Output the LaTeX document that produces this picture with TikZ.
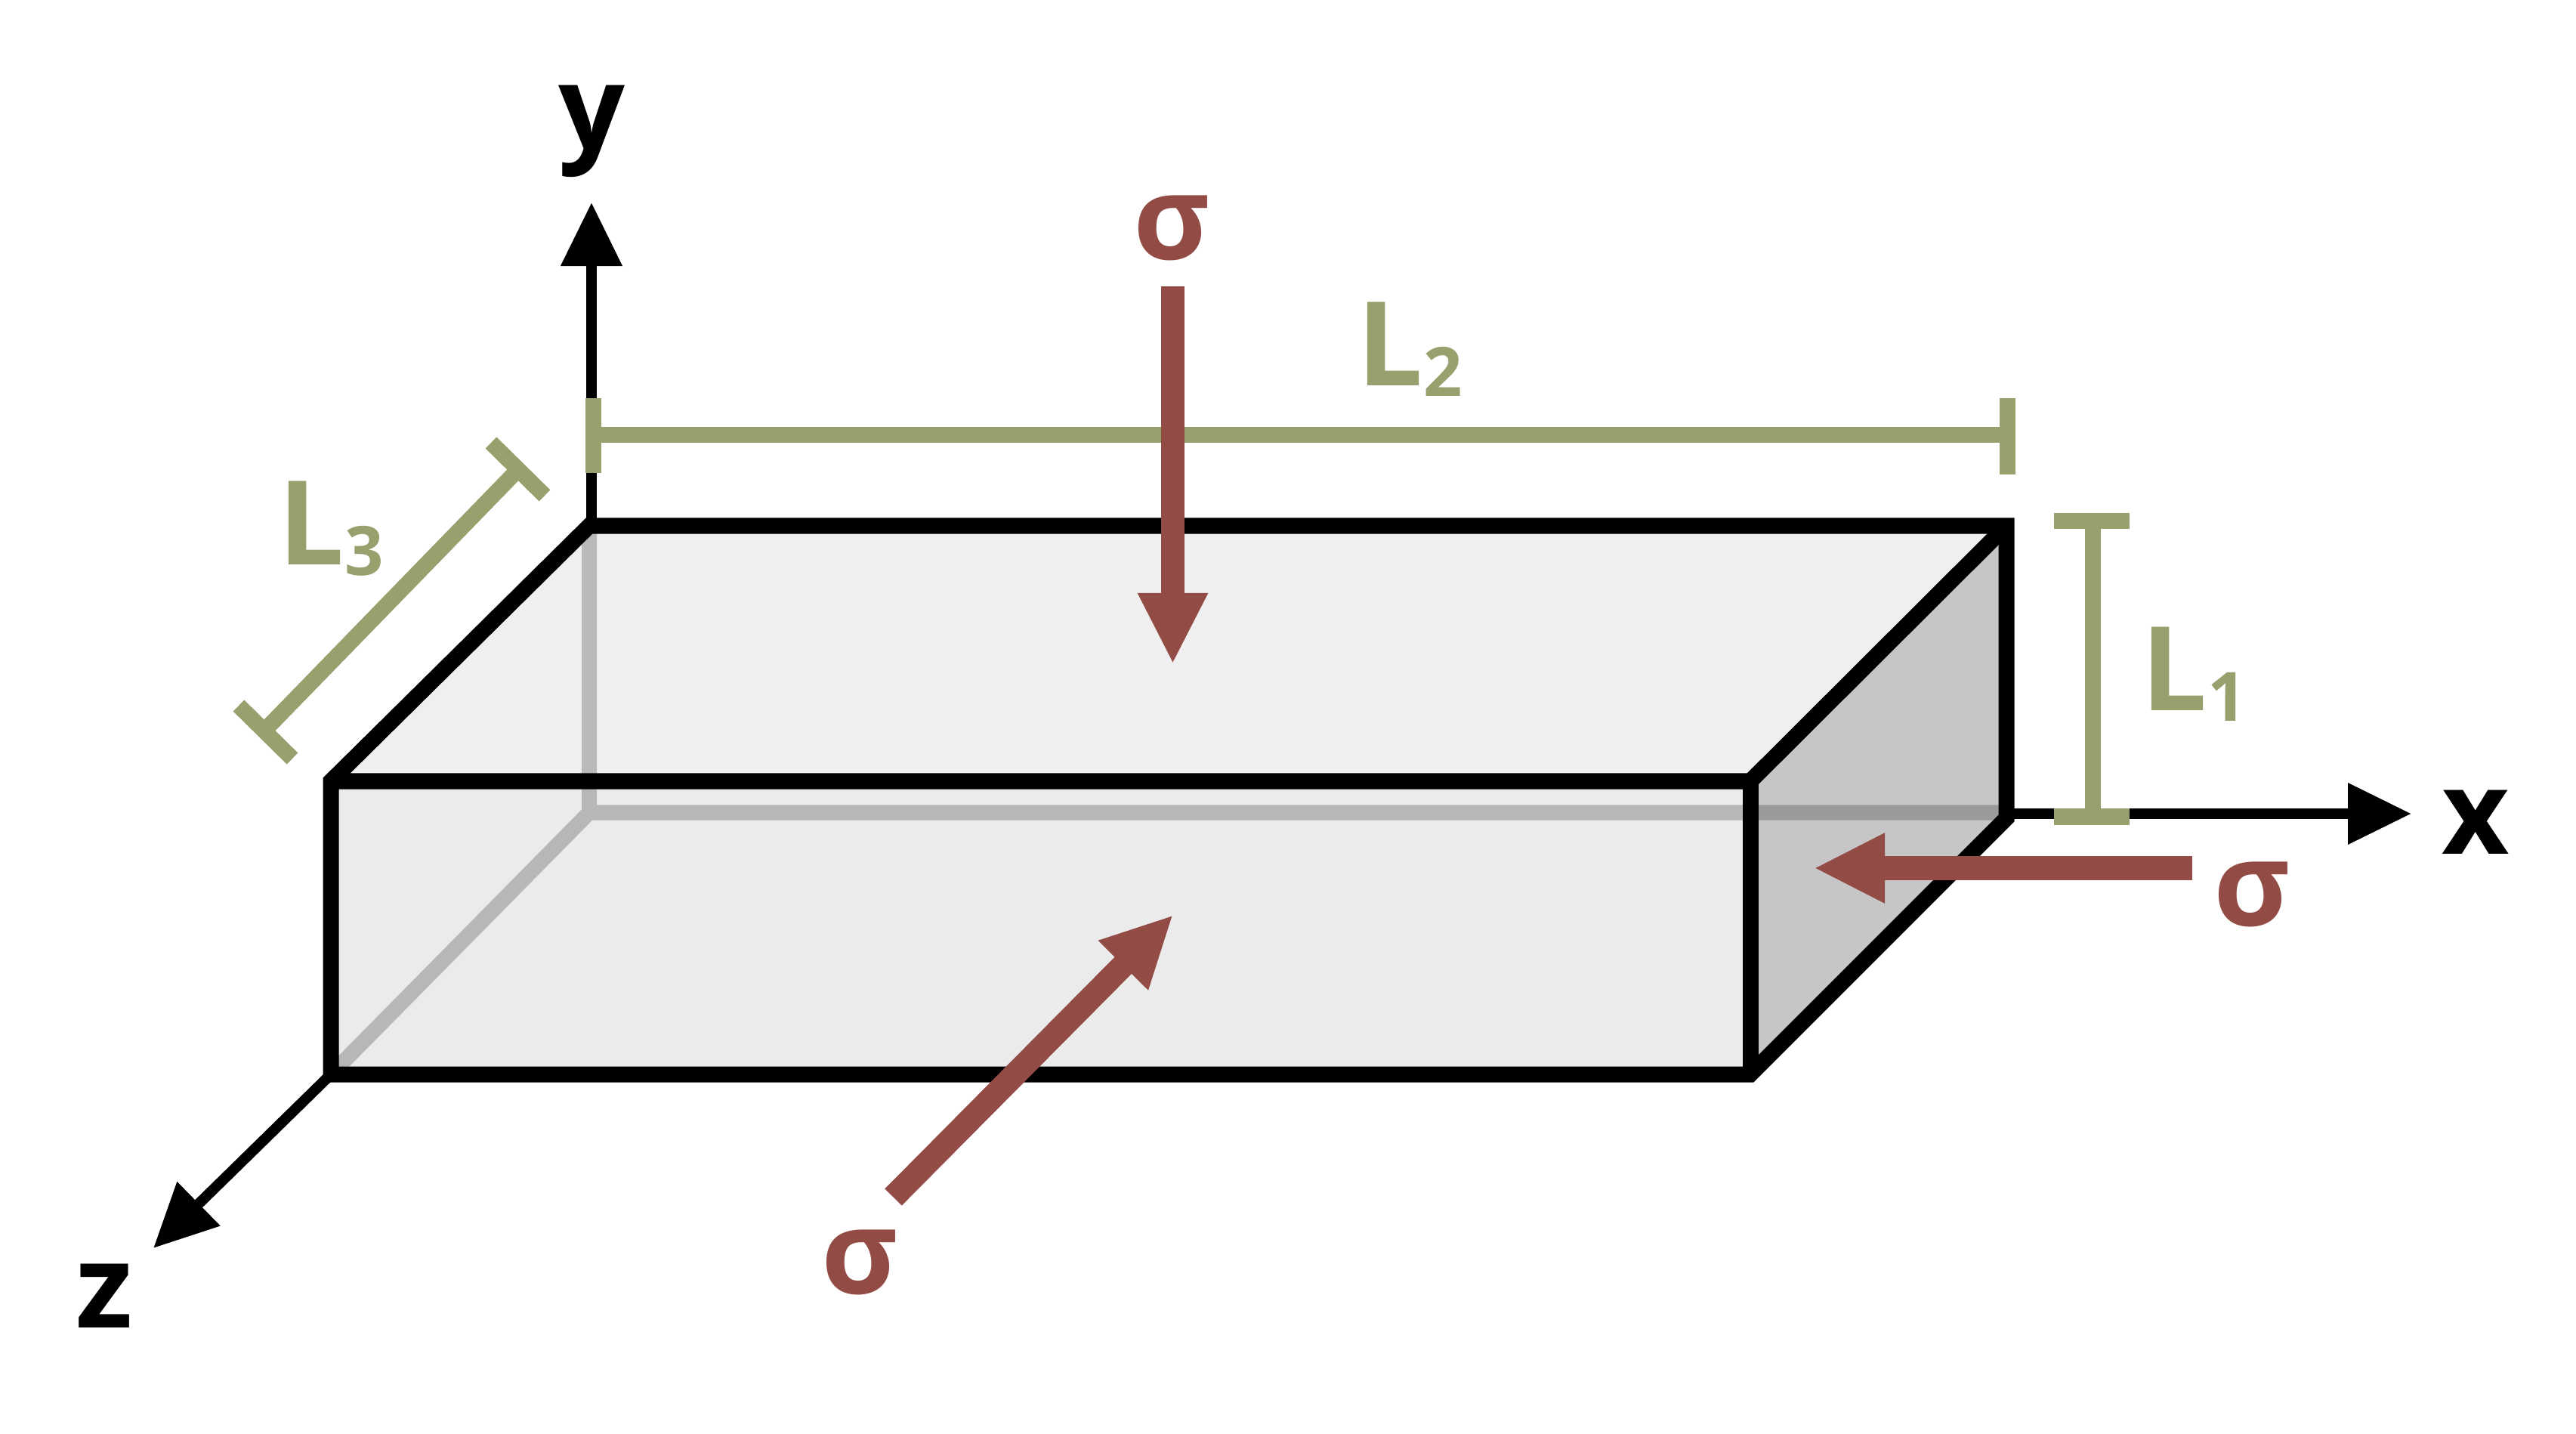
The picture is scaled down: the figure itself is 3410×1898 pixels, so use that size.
\documentclass[tikz,border=0pt]{standalone}
\usepackage{fontspec}
\setmainfont{Open Sans}[BoldFont={Open Sans Bold}]
\usetikzlibrary{arrows.meta}
\definecolor{olive}{HTML}{98A16D}
\definecolor{brick}{HTML}{934B45}
\definecolor{topface}{HTML}{EFEFEF}
\definecolor{frontface}{HTML}{EBEBEB}
\definecolor{sideface}{HTML}{C6C6C6}
\newlength{\pxu}\setlength{\pxu}{0.01cm}
\newcommand{\bigtxt}{\fontsize{44pt}{50pt}\selectfont\bfseries}
\newcommand{\LenLab}[1]{\bigtxt L\raisebox{-14\pxu}{\fontsize{25.6pt}{30pt}\selectfont\bfseries #1}}
\tikzset{
  lab/.style={inner sep=0pt,anchor=base west,font=\bigtxt},
  edge/.style={draw=black,line width=0.21cm,line join=miter,miter limit=10},
  hidden/.style={draw=black,draw opacity=0.22,line width=0.2cm,line join=miter},
  axisline/.style={draw=black,line width=0.14cm,-{Triangle[length=0.84cm,width=0.78cm]}},
  dimline/.style={draw=olive,line width=0.21cm},
  load/.style={draw=brick,line width=0.315cm,-{Triangle[length=0.94cm,width=0.86cm]},brick},
}
\begin{document}
\begin{tikzpicture}[x=0.01cm,y=-0.01cm]
\useasboundingbox (0,0) rectangle (3410,1898);
\coordinate (BL) at (780,696);
\coordinate (BR) at (2656,696);
\coordinate (FL) at (438,1034);
\coordinate (FR) at (2317,1034);
\coordinate (GL) at (438,1422);
\coordinate (GR) at (2317,1422);
\coordinate (HR) at (2656,1083);
\coordinate (HL) at (780,1075.5);
\coordinate (HE) at (2656,1075.5);
% faces
\fill[topface] (BL) -- (BR) -- (FR) -- (FL) -- cycle;
\fill[frontface] (FL) -- (FR) -- (GR) -- (GL) -- cycle;
\fill[sideface] (BR) -- (HR) -- (GR) -- (FR) -- cycle;
% hidden edges
\draw[hidden] (BL) -- (HL) -- (HE) (HL) -- (GL);
% axes
\coordinate (Yo) at (783,696);
\coordinate (Yt) at (783,268);
\coordinate (Xo) at (2656,1077);
\coordinate (Xt) at (3192,1077);
\coordinate (Zt) at (203,1652);
\draw[axisline] (Yo) -- (Yt);
\draw[axisline] (Xo) -- (Xt);
\draw[axisline] (GL) -- (Zt);
% box outline
\draw[edge] (BL) -- (BR) -- (HR) -- (GR) -- (GL) -- (FL) -- cycle;
\draw[edge] (FL) -- (FR) -- (BR);
\draw[edge] (FR) -- (GR);
% dimensions
\coordinate (A2a) at (785,527); \coordinate (A2b) at (785,626);
\coordinate (B2a) at (2657,527); \coordinate (B2b) at (2657,628);
\coordinate (M2a) at (785,575.5); \coordinate (M2b) at (2657,575.5);
\coordinate (A1a) at (2719,689.5); \coordinate (A1b) at (2819,689.5);
\coordinate (B1a) at (2719,1081); \coordinate (B1b) at (2819,1081);
\coordinate (M1a) at (2770.5,689.5); \coordinate (M1b) at (2770.5,1081);
\coordinate (A3a) at (650,586); \coordinate (A3b) at (721,656);
\coordinate (B3a) at (316,934); \coordinate (B3b) at (387,1004);
\coordinate (M3a) at (685.5,622); \coordinate (M3b) at (352,965);
\draw[dimline] (A2a) -- (A2b);
\draw[dimline] (B2a) -- (B2b);
\draw[dimline] (M2a) -- (M2b);
\draw[dimline] (A1a) -- (A1b);
\draw[dimline] (B1a) -- (B1b);
\draw[dimline] (M1a) -- (M1b);
\draw[dimline] (A3a) -- (A3b);
\draw[dimline] (B3a) -- (B3b);
\draw[dimline] (M3a) -- (M3b);
% loads
\coordinate (S1a) at (1552.5,379); \coordinate (S1b) at (1552.5,879);
\coordinate (S2a) at (2902,1149); \coordinate (S2b) at (2401,1149);
\coordinate (S3a) at (1182.5,1584.5); \coordinate (S3b) at (1553,1211);
\draw[load] (S1a) -- (S1b);
\draw[load] (S2a) -- (S2b);
\draw[load] (S3a) -- (S3b);
% labels
\node[lab] (ylab) at (739,198) {y};
\node[lab] (xlab) at (3232,1130) {x};
\node[lab] (zlab) at (100,1757) {z};
\node[lab,text=brick] (s1) at (1500,344) {σ};
\node[lab,text=brick] (s2) at (2930,1225) {σ};
\node[lab,text=brick] (s3) at (1087,1712) {σ};
\node[lab,text=olive] (L1) at (2834,940) {\LenLab{1}};
\node[lab,text=olive] (L2) at (1796,511) {\LenLab{2}};
\node[lab,text=olive] (L3) at (368,748) {\LenLab{3}};
\end{tikzpicture}
\end{document}
